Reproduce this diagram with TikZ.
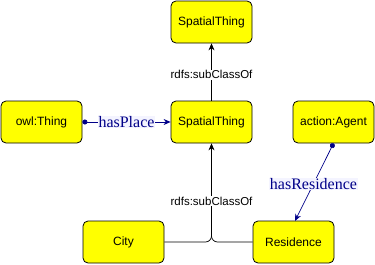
\documentclass[tikz,border=0pt]{standalone}
\usepackage{fontspec}
\setmainfont{Liberation Sans}
\newfontfamily\serifont{Liberation Serif}
\usetikzlibrary{arrows.meta}
\definecolor{boxyellow}{HTML}{FFFF00}
\definecolor{propblue}{HTML}{000088}
\definecolor{lblbg}{HTML}{F4F4FF}
\begin{document}
\begin{tikzpicture}[x=1pt,y=-1pt,
  cls/.style={draw=black, fill=boxyellow, rounded corners=5pt, minimum width=81pt, minimum height=42pt, inner sep=0pt, font=\fontsize{12}{14}\selectfont, line width=0.8pt},
  sub/.style={draw=black, line width=0.7pt, -{Stealth[length=7pt,width=6pt]}},
  sublbl/.style={fill=white, inner sep=1pt, font=\fontsize{11.5}{13}\selectfont},
  prop/.style={draw=propblue, line width=0.7pt, {Circle[length=5pt]}-{Stealth[length=7pt,width=6pt]}},
  proplbl/.style={fill=lblbg, text=propblue, inner sep=0.5pt, font=\serifont\fontsize{16}{18}\selectfont}]
\useasboundingbox (0,0) rectangle (375,265);
\node[cls] (top) at (211.5,22) {SpatialThing};
\node[cls] (st) at (211.5,122) {SpatialThing};
\node[cls] (owl) at (41.5,122) {owl:Thing};
\node[cls] (agent) at (333.5,122) {action:Agent};
\node[cls] (city) at (123.5,242) {City};
\node[cls] (res) at (293.5,242) {Residence};
\draw[sub] (st) -- (top) node[sublbl, pos=0.45] {rdfs:subClassOf};
\coordinate (j) at (211.5,242);
\draw[draw=black, line width=0.7pt, rounded corners=6pt] (city.east) -- (j) -- (211.5,225);
\draw[draw=black, line width=0.7pt, rounded corners=6pt] (res.west) -- (j) -- (211.5,225);
\draw[sub] (211.5,226) -- (st.south) node[sublbl, pos=0.3] {rdfs:subClassOf};
\draw[prop] (owl.east) -- (st.west) node[proplbl, pos=0.5] {hasPlace};
\coordinate (rt) at (295,221);
\draw[prop] (agent.south) -- (rt) node[proplbl, pos=0.52] {hasResidence};
\end{tikzpicture}
\end{document}
